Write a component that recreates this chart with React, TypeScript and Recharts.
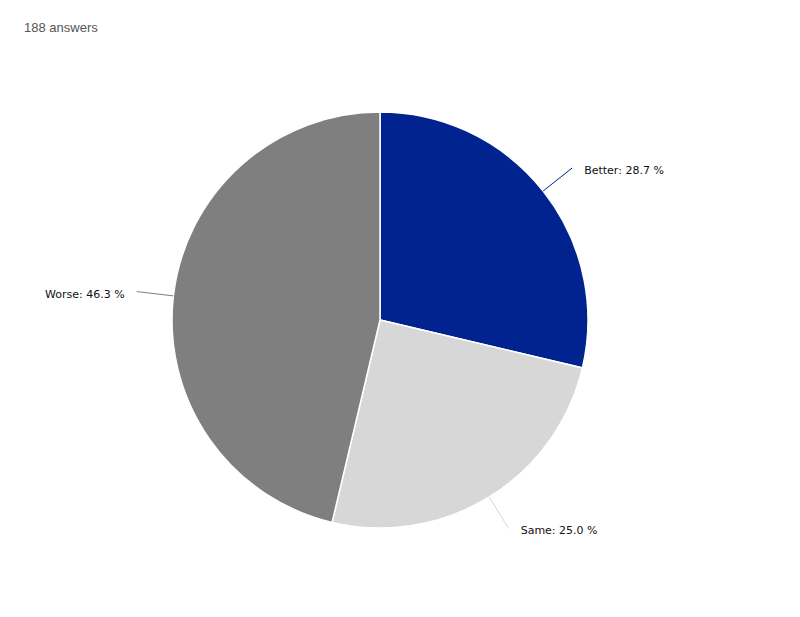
import { PieChart, Pie, Cell } from "recharts";

const answers = ["Better", "Same", "Worse"];
const shares = [28.7, 25.0, 46.3];
const sliceColors = ["#00238f", "#d7d7d7", "#7f7f7f"];

const data = answers.map((name, i) => ({ name, value: shares[i] }));

const RADIAN = Math.PI / 180;

// label drawn by hand: short radial leader line + text beside it
const renderLabel = (props: any) => {
  const { cx, cy, midAngle, outerRadius, index, name, value } = props;
  const cos = Math.cos(-midAngle * RADIAN);
  const sin = Math.sin(-midAngle * RADIAN);
  const sx = cx + outerRadius * cos;
  const sy = cy + outerRadius * sin;
  const ex = cx + (outerRadius + 37) * cos;
  const ey = cy + (outerRadius + 37) * sin;
  const right = cos >= 0;
  return (
    <g>
      <line
        x1={sx}
        y1={sy}
        x2={ex}
        y2={ey}
        stroke={sliceColors[index]}
        strokeWidth={1}
      />
      <text
        x={ex + (right ? 12 : -12)}
        y={ey + 6}
        textAnchor={right ? "start" : "end"}
        fill="#111"
        fontSize={11}
        fontFamily="DejaVu Sans"
      >
        {`${name}: ${value.toFixed(1)} %`}
      </text>
    </g>
  );
};

export default function App() {
  return (
    <div
      style={{
        position: "absolute",
        left: 0,
        top: 0,
        width: 800,
        height: 617,
        background: "#fff",
      }}
    >
      <div
        style={{
          position: "absolute",
          left: 24,
          top: 20,
          fontFamily: "Liberation Sans",
          fontSize: 13,
          color: "#555",
        }}
      >
        188 answers
      </div>
      <PieChart width={800} height={617}>
        <Pie
          data={data}
          dataKey="value"
          nameKey="name"
          cx={375}
          cy={315}
          outerRadius={208}
          startAngle={90}
          endAngle={-270}
          stroke="#fff"
          strokeWidth={1.5}
          label={renderLabel}
          labelLine={false}
          isAnimationActive={false}
        >
          {data.map((entry, i) => (
            <Cell key={entry.name} fill={sliceColors[i]} />
          ))}
        </Pie>
      </PieChart>
    </div>
  );
}
